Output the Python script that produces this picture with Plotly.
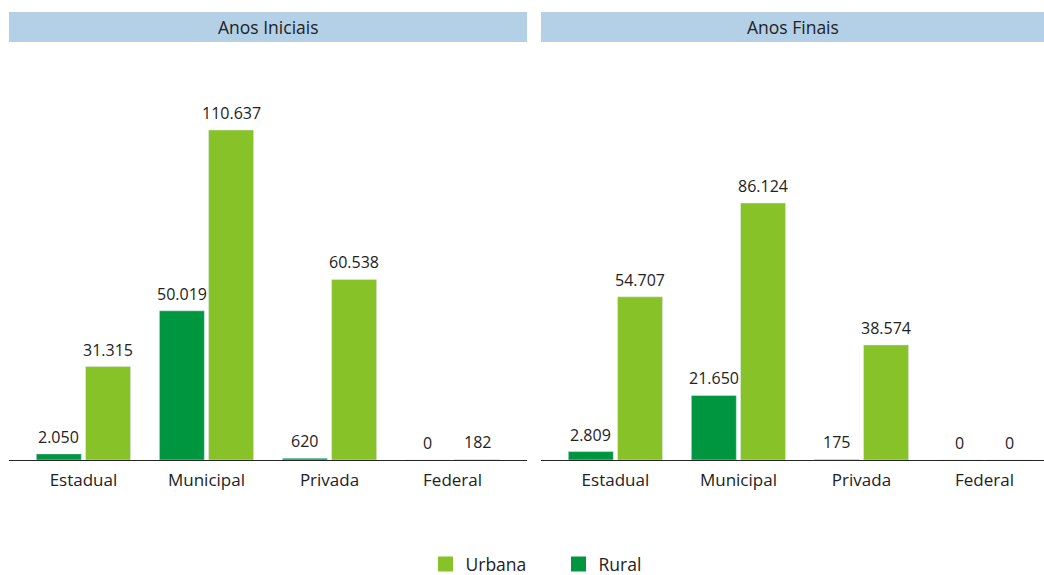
import plotly.graph_objects as go

categories = ["Estadual", "Municipal", "Privada", "Federal"]
panels = ["Anos Iniciais", "Anos Finais"]
urbana_iniciais = [31315, 110637, 60538, 182]
rural_iniciais = [2050, 50019, 620, 0]
urbana_finais = [54707, 86124, 38574, 0]
rural_finais = [2809, 21650, 175, 0]

URB = "#86C228"
RUR = "#009640"
HDR = "#B4D0E6"
TXT = "#222222"
FONT = "Open Sans"

W, H = 1044, 575
PLOT_H = 460

def fmt(v):
    return f"{v:,}".replace(",", ".")

fig = go.Figure()
idx = list(range(len(categories)))
data = [(urbana_iniciais, rural_iniciais, "x", "y"), (urbana_finais, rural_finais, "x2", "y2")]
annotations = []
for p, (urb, rur, xa, ya) in enumerate(data):
    fig.add_trace(go.Bar(x=idx, y=urb, name="Urbana", marker_color=URB, offset=0.017, width=0.366,
                         xaxis=xa, yaxis=ya, showlegend=False))
    fig.add_trace(go.Bar(x=idx, y=rur, name="Rural", marker_color=RUR, offset=-0.383, width=0.366,
                         xaxis=xa, yaxis=ya, showlegend=False))
    for i in idx:
        for v, dx in ((rur[i], -0.2), (urb[i], 0.2)):
            annotations.append(dict(x=i + dx, y=v, xref=xa, yref=ya, text=fmt(v), showarrow=False,
                                    yanchor="middle", yshift=17, font=dict(family=FONT, size=16, color=TXT)))

for name, col in (("Urbana", URB), ("Rural", RUR)):
    fig.add_trace(go.Scatter(x=[None], y=[None], mode="markers", name=name,
                             marker=dict(symbol="square", size=15, color=col), showlegend=True))

doms = [(9 / W, 527 / W), (541 / W, 1.0)]
ranges = [(-0.605, 3.605), (-0.605, 3.484)]
for p, name in enumerate(panels):
    x0, x1 = doms[p]
    annotations.append(dict(x=(x0 + x1) / 2, y=1 - 27 / PLOT_H, xref="paper", yref="paper", text=name,
                            showarrow=False, xanchor="center", yanchor="middle",
                            font=dict(family=FONT, size=17.5, color=TXT)))

shapes = [dict(type="rect", xref="paper", yref="paper", x0=d[0], x1=d[1], y0=1 - 42 / PLOT_H, y1=1 - 12 / PLOT_H,
               fillcolor=HDR, line=dict(width=0), layer="below") for d in doms]

axis_common = dict(tickvals=idx, ticktext=categories, showgrid=False, zeroline=False, showline=True,
                   linecolor="#262626", linewidth=1, ticks="", tickfont=dict(family=FONT, size=17, color=TXT),
                   fixedrange=True, automargin=False, ticklabelstandoff=5)
yaxis_common = dict(range=[0, PLOT_H / 0.002983], visible=False, showgrid=False, zeroline=False, fixedrange=True)

fig.update_layout(
    width=W, height=H,
    margin=dict(l=0, r=0, t=0, b=H - PLOT_H, autoexpand=False),
    paper_bgcolor="white", plot_bgcolor="white",
    barmode="overlay",
    xaxis=dict(domain=list(doms[0]), range=list(ranges[0]), anchor="y", **axis_common),
    xaxis2=dict(domain=list(doms[1]), range=list(ranges[1]), anchor="y2", **axis_common),
    yaxis=dict(domain=[0, 1], anchor="x", **yaxis_common),
    yaxis2=dict(domain=[0, 1], anchor="x2", **yaxis_common),
    annotations=annotations,
    shapes=shapes,
    legend=dict(orientation="h", x=(445.5 - 20) / W, xanchor="left", xref="container",
                y=1 - 564 / H, yanchor="middle", yref="container",
                font=dict(family=FONT, size=17.5, color=TXT), itemclick=False, itemdoubleclick=False,
                traceorder="normal", entrywidth=88, entrywidthmode="pixels"),
    showlegend=True,
)
post = ("document.documentElement.style.margin='0';document.body.style.margin='0';"
        "document.documentElement.style.overflow='hidden';document.body.style.overflow='hidden';")
fig.write_html("out.html", config={"displayModeBar": False}, post_script=post)
